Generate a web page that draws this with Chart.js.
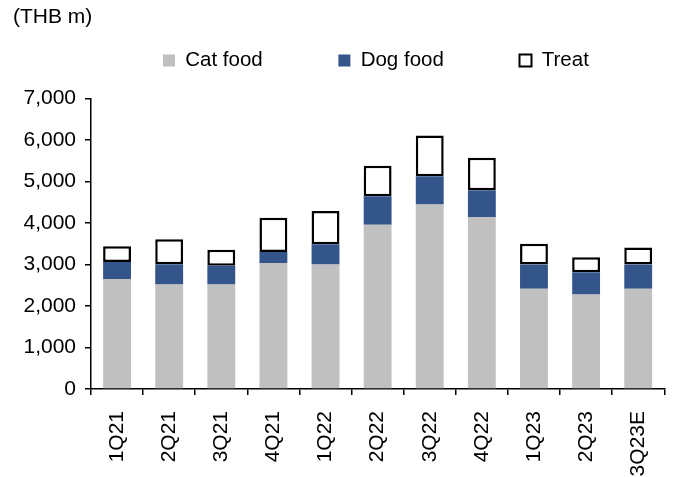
<!DOCTYPE html>
<html>
<head>
<meta charset="utf-8">
<script src="https://cdn.jsdelivr.net/npm/chart.js@4/dist/chart.umd.min.js"></script>
<style>
  html, body { margin: 0; padding: 0; background: #fff; }
  #wrap { width: 680px; height: 477px; }
</style>
</head>
<body>
<div id="wrap"><canvas id="chart"></canvas></div>
<script>
const quarters = ["1Q21", "2Q21", "3Q21", "4Q21", "1Q22", "2Q22", "3Q22", "4Q22", "1Q23", "2Q23", "3Q23E"];
const catFood = [2650, 2520, 2520, 3040, 3000, 3960, 4450, 4150, 2415, 2280, 2415];
const dogFood = [410, 490, 450, 265, 490, 690, 680, 640, 590, 535, 590];
const treat = [385, 600, 390, 825, 800, 735, 980, 785, 500, 360, 410];
const yTicks = [0, 1000, 2000, 3000, 4000, 5000, 6000, 7000];

const FONT = "'Liberation Sans', Arial, sans-serif";

// move the legend to where the reference has it
const legendShift = {
  id: "legendShift",
  afterLayout(chart) {
    const lg = chart.legend;
    if (!lg) return;
    const dx = 137, dy = -18;
    lg.left += dx; lg.right += dx;
    lg.top += dy; lg.bottom += dy;
  }
};

const ctx = document.getElementById("chart").getContext("2d");
new Chart(ctx, {
  type: "bar",
  data: {
    labels: quarters,
    datasets: [
      { label: "Cat food", data: catFood, backgroundColor: "#c0c0c0", borderWidth: 0 },
      { label: "Dog food", data: dogFood, backgroundColor: "#34558a", borderWidth: 0 },
      { label: "Treat", data: treat, backgroundColor: "#ffffff", borderColor: "#000000",
        borderWidth: 2.5, borderSkipped: false }
    ]
  },
  options: {
    responsive: true,
    maintainAspectRatio: false,
    animation: false,
    layout: { padding: { left: 13, right: 13, top: 0, bottom: 0 } },
    datasets: { bar: { barPercentage: 0.535, categoryPercentage: 1 } },
    plugins: {
      tooltip: { enabled: false },
      title: {
        display: true,
        text: "(THB m)",
        align: "start",
        color: "#000",
        font: { family: FONT, size: 21, weight: "normal" },
        padding: { top: 5, bottom: 25 }
      },
      legend: {
        display: true,
        position: "top",
        align: "start",
        labels: {
          color: "#000",
          font: { family: FONT, size: 20.5 },
          boxWidth: 12,
          boxHeight: 12,
          padding: 13,
          generateLabels(chart) {
            const items = Chart.defaults.plugins.legend.labels.generateLabels(chart);
            items.forEach((it, i) => {
              if (i < items.length - 1) it.text = it.text + " ".repeat(11);
              if (i === items.length - 1) it.lineWidth = 2;
            });
            return items;
          }
        }
      }
    },
    scales: {
      x: {
        stacked: true,
        afterFit(scale) { scale.height = 88; },
        grid: { offset: true, drawOnChartArea: false, drawTicks: true, tickLength: 6, color: "#000", lineWidth: 1.5 },
        border: { display: true, color: "#000", width: 1.5 },
        ticks: {
          color: "#000",
          font: { family: FONT, size: 21 },
          minRotation: 90,
          maxRotation: 90,
          padding: 16,
          autoSkip: false
        }
      },
      y: {
        stacked: true,
        min: 0,
        max: 7000,
        afterFit(scale) { scale.width = 78; },
        afterBuildTicks(scale) { scale.ticks = yTicks.map(v => ({ value: v })); },
        grid: { drawOnChartArea: false, drawTicks: true, tickLength: 6, color: "#000", lineWidth: 1.5 },
        border: { display: true, color: "#000", width: 1.5 },
        ticks: {
          color: "#000",
          font: { family: FONT, size: 21 },
          padding: 9,
          callback: (v) => Number(v).toLocaleString("en-US")
        }
      }
    }
  },
  plugins: [legendShift]
});
</script>
</body>
</html>
